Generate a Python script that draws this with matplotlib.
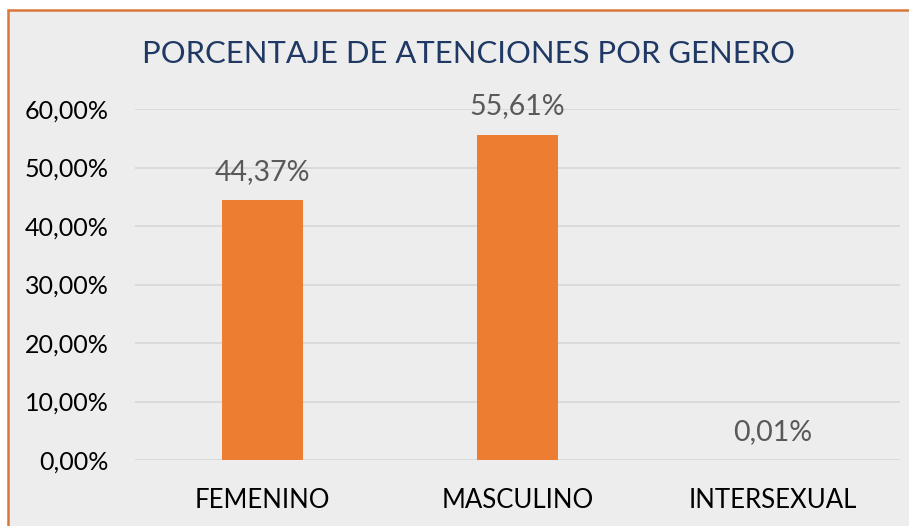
import matplotlib.pyplot as plt
from matplotlib.patches import Rectangle
from matplotlib.ticker import FuncFormatter

categorias = ['FEMENINO', 'MASCULINO', 'INTERSEXUAL']
porcentajes = [44.37, 55.61, 0.01]
etiquetas = ['44,37%', '55,61%', '0,01%']
ticks_y = [0, 10, 20, 30, 40, 50, 60]

plt.rcParams['font.family'] = ['Lato', 'DejaVu Sans']

fig = plt.figure(figsize=(9.09, 5.26), dpi=100)
fig.patch.set_facecolor('white')

# fondo gris con borde naranja
W, H = 909, 526
borde = Rectangle((8 / W, -0.1), 1.2, (526 - 10) / H + 0.1, transform=fig.transFigure,
                  facecolor='#EDEDED', edgecolor='#D9773A', linewidth=1.8, zorder=-5)
fig.patches.append(borde)

ax = fig.add_axes([135 / W, (526 - 460) / H, (900 - 135) / W, (460 - 109) / H])
ax.set_facecolor('none')

x = range(len(categorias))
ax.bar(x, porcentajes, width=0.314, color='#ED7D31', zorder=3)

for xi, v, t in zip(x, porcentajes, etiquetas):
    ax.text(xi, v + 2.6, t, ha='center', va='bottom', fontsize=20.5, color='#595959')

ax.set_xlim(-0.5, 2.5)
ax.set_ylim(0, 60)
ax.set_yticks(ticks_y)
ax.yaxis.set_major_formatter(FuncFormatter(lambda v, p: f'{v:.2f}%'.replace('.', ',')))
ax.set_xticks(list(x))
ax.set_xticklabels(categorias)
ax.tick_params(axis='y', length=0, labelsize=18, colors='black', pad=19)
ax.tick_params(axis='x', length=0, labelsize=18.5, colors='black', pad=20)
ax.grid(axis='y', color='#D9D9D9', linewidth=1.3, zorder=0)
for s in ax.spines.values():
    s.set_visible(False)

fig.text(468 / W, 1 - 54 / H, 'PORCENTAJE DE ATENCIONES POR GENERO', ha='center', va='center',
         fontsize=22.3, color='#1F3864')

fig.savefig('out.png', dpi=100)
